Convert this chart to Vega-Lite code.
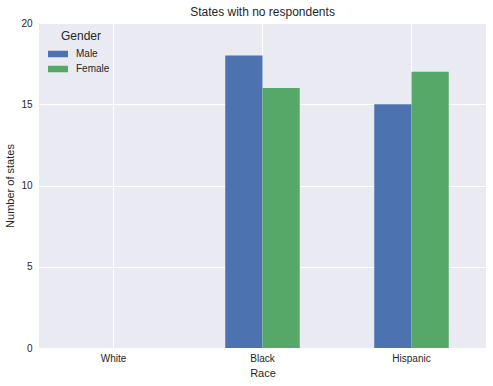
{
  "$schema": "https://vega.github.io/schema/vega-lite/v6.json",
  "autosize": {"type": "none"},
  "padding": {"left": 39, "top": 23, "right": 7, "bottom": 38},
  "width": 447,
  "height": 325,
  "background": "white",
  "title": {"text": "States with no respondents", "fontSize": 12, "font": "Liberation Sans", "fontWeight": "normal", "color": "#262626", "offset": -1},
  "data": {"values": [
    {"Race": "White", "Gender": "Male", "Count": 0},
    {"Race": "White", "Gender": "Female", "Count": 0},
    {"Race": "Black", "Gender": "Male", "Count": 18},
    {"Race": "Black", "Gender": "Female", "Count": 16},
    {"Race": "Hispanic", "Gender": "Male", "Count": 15},
    {"Race": "Hispanic", "Gender": "Female", "Count": 17}
  ]},
  "mark": {"type": "bar"},
  "encoding": {
    "x": {"field": "Race", "type": "nominal", "sort": ["White", "Black", "Hispanic"],
      "scale": {"paddingInner": 0.5, "paddingOuter": 0.25},
      "axis": {"title": "Race", "labelAngle": 0, "bandPosition": 0.5, "grid": true, "labelPadding": 5, "titlePadding": 4}},
    "xOffset": {"field": "Gender", "type": "nominal", "sort": ["Male", "Female"], "scale": {"paddingInner": 0, "paddingOuter": 0}},
    "y": {"field": "Count", "type": "quantitative", "scale": {"domain": [0, 20], "nice": false},
      "axis": {"title": "Number of states", "values": [0, 5, 10, 15, 20], "labelPadding": 7, "titlePadding": 5}},
    "color": {"field": "Gender", "type": "nominal", "sort": ["Male", "Female"],
      "scale": {"domain": ["Male", "Female"], "range": ["#4c72b0", "#55a868"]},
      "legend": {"title": "Gender", "orient": "none", "legendX": 14, "legendY": 8,
        "titleFontSize": 12, "titleFont": "Liberation Sans", "titleFontWeight": "normal", "titleColor": "#262626", "titleAnchor": "middle", "titlePadding": 6,
        "labelFontSize": 10, "labelFont": "Liberation Sans", "labelColor": "#262626", "labelOffset": 13,
        "symbolType": "M-2,-0.65H2V0.65H-2Z", "symbolSize": 100, "symbolStrokeWidth": 0, "symbolOpacity": 1, "rowPadding": 5}}
  },
  "config": {
    "view": {"fill": "#eaeaf2", "stroke": null},
    "axis": {"domain": false, "ticks": false, "gridColor": "white", "gridWidth": 1, "gridOpacity": 1,
      "labelFont": "Liberation Sans", "labelFontSize": 10, "labelColor": "#262626",
      "titleFont": "Liberation Sans", "titleFontSize": 11, "titleFontWeight": "normal", "titleColor": "#262626"}
  }
}
